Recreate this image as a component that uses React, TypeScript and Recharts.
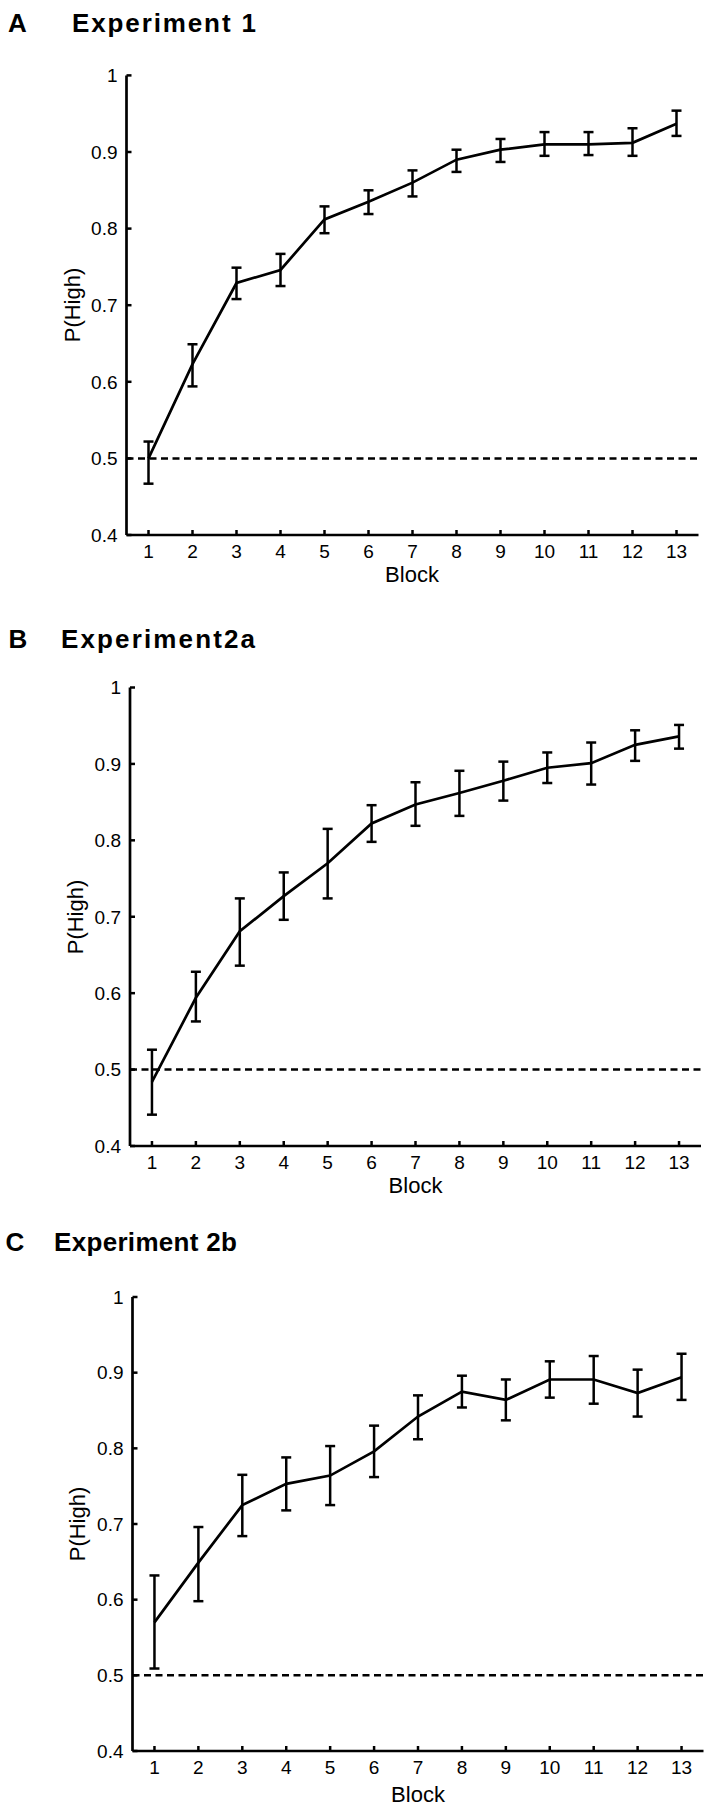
import React from "react";
import { LineChart, Line, XAxis, YAxis, ErrorBar, ReferenceLine } from "recharts";

const blocks = [1, 2, 3, 4, 5, 6, 7, 8, 9, 10, 11, 12, 13];
const yTicks = [0.4, 0.5, 0.6, 0.7, 0.8, 0.9, 1];

// Experiment 1
const exp1Mean = [0.5, 0.623, 0.729, 0.746, 0.812, 0.835, 0.86, 0.89, 0.903, 0.91, 0.91, 0.912, 0.937];
const exp1Upper = [0.522, 0.649, 0.749, 0.767, 0.829, 0.85, 0.876, 0.903, 0.917, 0.926, 0.926, 0.931, 0.954];
const exp1Lower = [0.467, 0.594, 0.708, 0.725, 0.794, 0.819, 0.842, 0.874, 0.887, 0.895, 0.896, 0.895, 0.921];

// Experiment 2a
const exp2aMean = [0.484, 0.594, 0.681, 0.727, 0.77, 0.822, 0.847, 0.862, 0.878, 0.895, 0.901, 0.925, 0.936];
const exp2aUpper = [0.526, 0.628, 0.724, 0.758, 0.815, 0.846, 0.876, 0.891, 0.903, 0.915, 0.928, 0.944, 0.951];
const exp2aLower = [0.441, 0.563, 0.636, 0.696, 0.724, 0.798, 0.819, 0.832, 0.852, 0.875, 0.873, 0.904, 0.92];

// Experiment 2b
const exp2bMean = [0.57, 0.649, 0.725, 0.753, 0.764, 0.796, 0.842, 0.875, 0.864, 0.891, 0.891, 0.873, 0.894];
const exp2bUpper = [0.632, 0.696, 0.765, 0.788, 0.803, 0.83, 0.87, 0.896, 0.891, 0.915, 0.922, 0.904, 0.925];
const exp2bLower = [0.509, 0.598, 0.684, 0.718, 0.725, 0.762, 0.812, 0.854, 0.837, 0.867, 0.859, 0.842, 0.864];

const FONT = "'Liberation Sans', Arial, Helvetica, sans-serif";
const W = 708;

const buildRows = (mean: number[], upper: number[], lower: number[]) =>
  blocks.map((b, i) => ({
    block: b,
    mean: mean[i],
    err: [mean[i] - lower[i], upper[i] - mean[i]],
  }));

const YTick = (props: any) => {
  const { x, y, payload } = props;
  const v = payload.value;
  return (
    <g>
      <line x1={x} x2={x + 5} y1={y} y2={y} stroke="#000" strokeWidth={2.5} />
      <text x={x - 9} y={y} dy={6.8} textAnchor="end" fontSize={19} fontFamily={FONT} fill="#000">
        {v === 1 ? "1" : v.toFixed(1)}
      </text>
    </g>
  );
};

const XTick = (props: any) => {
  const { x, y, payload } = props;
  return (
    <g>
      <line x1={x} x2={x} y1={y} y2={y - 5} stroke="#000" strokeWidth={2.5} />
      <text x={x} y={y} dy={23.3} textAnchor="middle" fontSize={19} fontFamily={FONT} fill="#000">
        {payload.value}
      </text>
    </g>
  );
};

type PanelProps = {
  rows: any[];
  chartTop: number;
  height: number;
  plotLeft: number;
  plotRight: number;
  plotTop: number;
  plotBottom: number;
};

function Panel({ rows, chartTop, height, plotLeft, plotRight, plotTop, plotBottom }: PanelProps) {
  return (
    <div style={{ position: "absolute", left: 0, top: chartTop }}>
      <LineChart
        width={W}
        height={height}
        data={rows}
        margin={{
          top: plotTop - chartTop,
          left: plotLeft - 60,
          right: W - plotRight,
          bottom: chartTop + height - plotBottom - 30,
        }}
      >
        <XAxis
          dataKey="block"
          type="number"
          domain={[0.5, 13.5]}
          ticks={blocks}
          interval={0}
          height={30}
          tickSize={0}
          tickMargin={0}
          tickLine={false}
          axisLine={{ stroke: "#000", strokeWidth: 2.7 }}
          tick={<XTick />}
          allowDataOverflow
        />
        <YAxis
          type="number"
          domain={[0.4, 1]}
          ticks={yTicks}
          interval={0}
          width={60}
          tickSize={0}
          tickMargin={0}
          tickLine={false}
          axisLine={{ stroke: "#000", strokeWidth: 2.7 }}
          tick={<YTick />}
          allowDataOverflow
        />
        <ReferenceLine y={0.5} stroke="#000" strokeWidth={2.5} strokeDasharray="7 4.5" />
        <Line
          dataKey="mean"
          type="linear"
          stroke="#000"
          strokeWidth={2.7}
          dot={false}
          isAnimationActive={false}
        >
          <ErrorBar dataKey="err" direction="y" width={5} stroke="#000" strokeWidth={2.5} />
        </Line>
      </LineChart>
    </div>
  );
}

const Overlay = () => (
  <svg
    width={W}
    height={1809}
    style={{ position: "absolute", left: 0, top: 0, pointerEvents: "none" }}
    fontFamily={FONT}
    fill="#000"
  >
    <text x={8} y={32.3} fontSize={26} fontWeight="bold">A</text>
    <text x={72} y={32.3} fontSize={26} fontWeight="bold" textLength={184} lengthAdjust="spacing">
      Experiment 1
    </text>
    <text x={8.5} y={648.3} fontSize={26} fontWeight="bold">B</text>
    <text x={61} y={648.3} fontSize={26} fontWeight="bold" textLength={194} lengthAdjust="spacing">
      Experiment2a
    </text>
    <text x={5.5} y={1251} fontSize={26} fontWeight="bold">C</text>
    <text x={54} y={1251} fontSize={26} fontWeight="bold" textLength={183} lengthAdjust="spacing">
      Experiment 2b
    </text>

    <text x={74} y={305} dy={5.7} fontSize={22} textAnchor="middle" transform="rotate(-90 74 305)">P(High)</text>
    <text x={77.5} y={917} dy={5.7} fontSize={22} textAnchor="middle" transform="rotate(-90 77.5 917)">P(High)</text>
    <text x={79} y={1524} dy={5.7} fontSize={22} textAnchor="middle" transform="rotate(-90 79 1524)">P(High)</text>

    <text x={412} y={581.7} fontSize={22} textAnchor="middle">Block</text>
    <text x={415.5} y={1193.3} fontSize={22} textAnchor="middle">Block</text>
    <text x={418} y={1802} fontSize={22} textAnchor="middle">Block</text>
  </svg>
);

export default function App() {
  const rowsA = buildRows(exp1Mean, exp1Upper, exp1Lower);
  const rowsB = buildRows(exp2aMean, exp2aUpper, exp2aLower);
  const rowsC = buildRows(exp2bMean, exp2bUpper, exp2bLower);

  return (
    <div style={{ position: "absolute", left: 0, top: 0, width: W, height: 1809, background: "#fff" }}>
      <Panel rows={rowsA} chartTop={0} height={620} plotLeft={126.5} plotRight={698.5} plotTop={75.4} plotBottom={535} />
      <Panel rows={rowsB} chartTop={660} height={560} plotLeft={130} plotRight={701} plotTop={687.5} plotBottom={1146} />
      <Panel rows={rowsC} chartTop={1270} height={539} plotLeft={132.5} plotRight={703.5} plotTop={1297} plotBottom={1751} />
      <Overlay />
    </div>
  );
}
